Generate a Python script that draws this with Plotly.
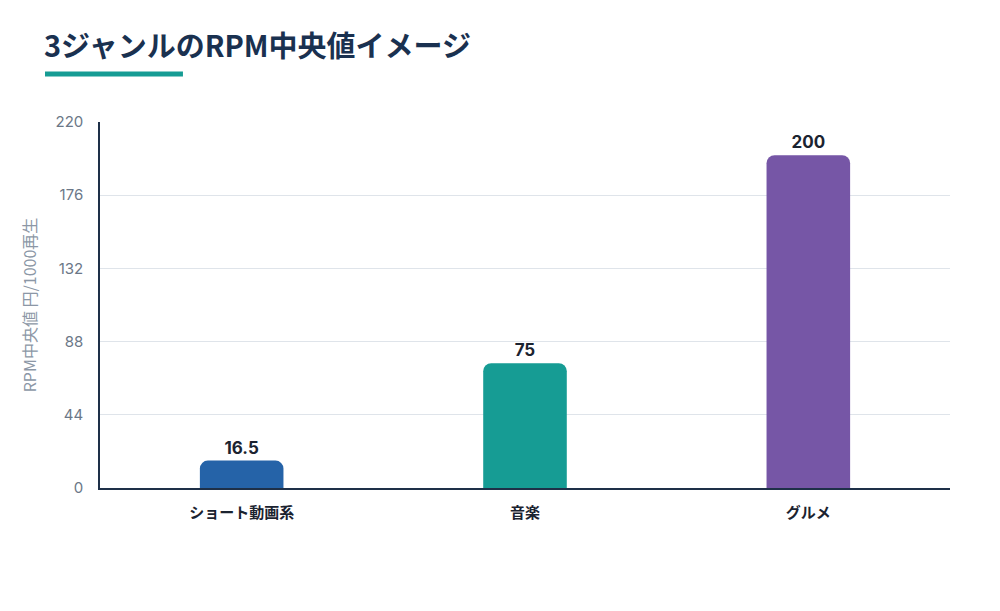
import plotly.graph_objects as go

# data
genres = ["ショート動画系", "音楽", "グルメ"]
rpm_median = [16.5, 75, 200]
bar_colors = ["#2563a8", "#169c94", "#7656a6"]
y_ticks = [0, 44, 88, 132, 176, 220]

jp_font = "Noto Sans CJK JP"
num_font = "Inter, Noto Sans CJK JP"

fig = go.Figure()
fig.add_trace(go.Bar(
    x=genres,
    y=rpm_median,
    marker=dict(color=bar_colors, cornerradius=8, line=dict(width=0)),
    width=0.295,
    text=[f"{v:g}" for v in rpm_median],
    textposition="outside",
    textfont=dict(family=num_font, size=17, color="#1b2330", weight="bold"),
    cliponaxis=False,
    hoverinfo="x+y",
))

fig.update_layout(
    width=1000, height=611,
    paper_bgcolor="white", plot_bgcolor="white",
    margin=dict(l=92, r=58, t=114, b=131),
    showlegend=False,
    title=dict(
        text="<b>3ジャンルのRPM中央値イメージ</b>",
        font=dict(family=jp_font, size=29, color="#1a3150"),
        xref="container", x=0.036, xanchor="left",
        yref="container", y=0.936, yanchor="middle",
    ),
    font=dict(family=jp_font),
)

# teal underline under the title
fig.add_shape(type="line", xref="paper", yref="paper",
              x0=-0.0647, x1=0.0976, y0=1.131, y1=1.131,
              line=dict(color="#169c94", width=5))

fig.update_xaxes(
    showgrid=False,
    showline=True, linecolor="#1e3048", linewidth=2,
    ticks="", ticklabelstandoff=10,
    tickfont=dict(family=jp_font, size=15, color="#1b2330", weight="bold"),
)
fig.update_yaxes(
    range=[0, 220],
    tickvals=y_ticks,
    showgrid=True, gridcolor="#dfe4ea", gridwidth=1,
    zeroline=False,
    showline=True, linecolor="#1e3048", linewidth=1.5,
    ticks="", ticklabelstandoff=12,
    tickfont=dict(family=num_font, size=15, color="#6b7787"),
    title=dict(text="RPM中央値 円/1000再生", standoff=15,
               font=dict(family=jp_font, size=16, color="#8c97a6")),
)

fig.write_html("out.html")
